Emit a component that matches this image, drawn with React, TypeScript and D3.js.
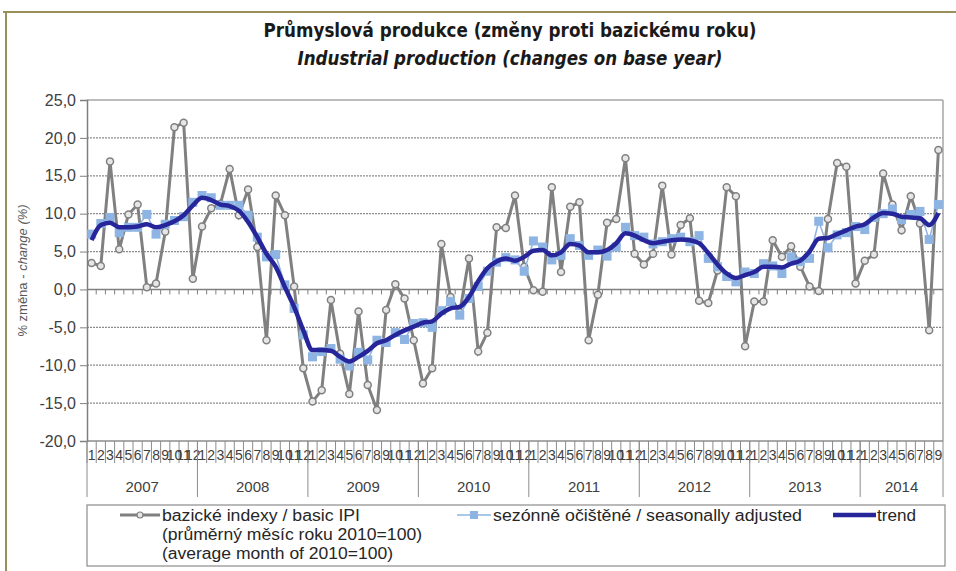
import React, { useRef, useEffect } from 'react';
import * as d3 from 'd3';

// years shown on the category axis and how many months each has
const years = ['2007', '2008', '2009', '2010', '2011', '2012', '2013', '2014'];
const monthsInYear = [12, 12, 12, 12, 12, 12, 12, 9];
const yTicks = [25, 20, 15, 10, 5, 0, -5, -10, -15, -20];

// basic IPI (gray)
const basicIPI = [
  3.5, 3.1, 16.9, 5.3, 9.9, 11.2, 0.3, 0.8, 7.6, 21.4, 22.0, 1.4,
  8.3, 10.7, 11.3, 15.9, 9.8, 13.2, 5.6, -6.7, 12.4, 9.8, 0.4, -10.4,
  -14.8, -13.3, -1.4, -8.5, -13.8, -2.9, -12.6, -15.9, -2.7, 0.7, -1.2, -6.7,
  -12.4, -10.4, 6.0, -1.0, -3.0, 4.1, -8.2, -5.7, 8.2, 8.1, 12.4, 3.0,
  -0.1, -0.3, 13.5, 2.3, 10.9, 11.5, -6.7, -0.7, 8.8, 9.3, 17.3, 4.7,
  3.3, 4.7, 13.7, 4.6, 8.5, 9.4, -1.5, -1.8, 2.5, 13.5, 12.3, -7.5,
  -1.6, -1.6, 6.5, 4.3, 5.7, 3.0, 0.4, -0.2, 9.3, 16.7, 16.2, 0.8,
  3.8, 4.6, 15.3, 11.2, 7.8, 12.3, 8.7, -5.4, 18.4
];

// seasonally adjusted (light blue)
const seasonallyAdjusted = [
  7.3, 8.7, 9.5, 7.5, 8.2, 8.2, 9.9, 7.3, 8.6, 9.1, 9.6, 11.5,
  12.4, 12.1, 11.1, 11.1, 11.1, 9.8, 6.9, 4.3, 4.6, 0.6, -2.5, -6.0,
  -8.9, -8.2, -7.8, -9.2, -10.1, -8.3, -9.3, -6.7, -7.0, -5.7, -6.6, -4.5,
  -4.4, -5.0, -2.8, -1.6, -3.4, -1.2, 0.4, 2.4, 3.6, 4.2, 3.9, 2.4,
  6.4, 5.6, 3.9, 4.5, 6.7, 5.8, 4.5, 5.2, 4.4, 5.6, 8.2, 7.1,
  6.9, 6.0, 6.3, 6.7, 6.9, 6.3, 7.1, 4.1, 3.0, 1.7, 1.0, 2.3,
  2.1, 3.4, 3.1, 2.1, 4.3, 3.7, 4.1, 9.0, 5.5, 7.2, 7.5, 8.3,
  7.9, 9.5, 10.0, 10.6, 9.2, 9.9, 10.3, 6.6, 11.2
];

// trend (dark blue)
const trend = [
  6.5, 8.5, 8.8, 8.2, 8.2, 8.3, 8.6, 8.2, 8.5, 9.0, 9.8, 11.1,
  12.1, 11.8, 11.2, 11.0, 10.4, 8.9, 6.9, 4.7, 3.0, 0.3, -2.3, -5.4,
  -8.0, -8.0, -8.1, -8.9, -9.5, -8.9, -8.1, -7.1, -6.7, -6.0, -5.4, -4.9,
  -4.4, -4.2, -3.2, -2.5, -2.3, -1.0, 1.1, 2.8, 3.7, 4.1, 3.8, 4.3,
  5.1, 5.2, 4.5, 4.9, 6.0, 5.8, 4.9, 4.9, 5.2, 6.1, 7.4, 7.1,
  6.5, 6.1, 6.3, 6.5, 6.6, 6.5, 6.1, 4.8, 3.3, 2.1, 1.5, 1.9,
  2.3, 3.0, 3.0, 2.9, 3.4, 3.8, 5.0, 6.7, 6.8, 7.3, 7.8, 8.3,
  8.6, 9.5, 10.1, 10.0, 9.6, 9.5, 9.4, 8.5, 10.1
];

const FONT = "'Liberation Sans', Arial, sans-serif";
const TITLE_FONT = "'Liberation Sans Narrow', 'DejaVu Sans Condensed', 'Liberation Sans', sans-serif";

function App() {
  const svgRef = useRef<SVGSVGElement>(null);

  useEffect(() => {
    const svg = d3.select(svgRef.current);
    svg.selectAll('*').remove();

    const W = 956, H = 571;
    const left = 87, right = 943, top = 100, bottom = 441;

    // categories: one per month
    const cats: { key: string; month: string; year: string }[] = [];
    years.forEach((y, yi) => {
      for (let m = 1; m <= monthsInYear[yi]; m++) {
        cats.push({ key: `${y}-${m}`, month: String(m), year: y });
      }
    });

    const x = d3.scaleBand().domain(cats.map(c => c.key)).range([left, right]).padding(0);
    const y = d3.scaleLinear().domain([-20, 25]).range([bottom, top]);
    const cx = (i: number) => (x(cats[i].key) as number) + x.bandwidth() / 2;

    svg.append('rect').attr('width', W).attr('height', H).attr('fill', '#fff');

    // outer frame
    svg.append('line').attr('x1', 3).attr('x2', W).attr('y1', 12).attr('y2', 12)
      .attr('stroke', '#9a8f5a').attr('stroke-width', 2);
    svg.append('line').attr('x1', 6).attr('x2', 6).attr('y1', 12).attr('y2', H)
      .attr('stroke', '#9a8f5a').attr('stroke-width', 2);

    // titles
    svg.append('text').attr('x', 510).attr('y', 37).attr('text-anchor', 'middle')
      .attr('font-family', TITLE_FONT).attr('font-weight', 'bold').attr('font-size', 19)
      .attr('fill', '#1a1a1a').attr('textLength', 493).attr('lengthAdjust', 'spacingAndGlyphs')
      .text('Průmyslová produkce (změny proti bazickému roku)');
    svg.append('text').attr('x', 510).attr('y', 65).attr('text-anchor', 'middle')
      .attr('font-family', TITLE_FONT).attr('font-weight', 'bold').attr('font-style', 'italic')
      .attr('font-size', 19).attr('fill', '#1a1a1a')
      .attr('textLength', 425).attr('lengthAdjust', 'spacingAndGlyphs')
      .text('Industrial production (changes on base year)');

    // gridlines (dotted)
    svg.append('g').selectAll('line')
      .data(yTicks.filter(t => t !== 25 && t !== 0 && t !== -20))
      .enter().append('line')
      .attr('x1', left).attr('x2', right)
      .attr('y1', d => y(d)).attr('y2', d => y(d))
      .attr('stroke', '#8c8c8c').attr('stroke-width', 1.2).attr('stroke-dasharray', '2,1');

    // plot border top/right/bottom
    svg.append('line').attr('x1', left).attr('x2', right).attr('y1', y(25)).attr('y2', y(25))
      .attr('stroke', '#a6a6a6').attr('stroke-width', 1.5);
    svg.append('line').attr('x1', right).attr('x2', right).attr('y1', y(25)).attr('y2', y(-20))
      .attr('stroke', '#a6a6a6').attr('stroke-width', 1.5);
    svg.append('line').attr('x1', left).attr('x2', right).attr('y1', y(-20)).attr('y2', y(-20))
      .attr('stroke', '#8c8c8c').attr('stroke-width', 1.5);

    // zero line with month ticks
    svg.append('line').attr('x1', left).attr('x2', right).attr('y1', y(0)).attr('y2', y(0))
      .attr('stroke', '#7f7f7f').attr('stroke-width', 1.5);
    svg.append('g').selectAll('line')
      .data(cats.slice(1)).enter().append('line')
      .attr('x1', d => x(d.key) as number).attr('x2', d => x(d.key) as number)
      .attr('y1', y(0)).attr('y2', y(0) + 5)
      .attr('stroke', '#7f7f7f').attr('stroke-width', 1);

    // y axis
    const yAxis = svg.append('g').attr('transform', `translate(${left},0)`)
      .call(d3.axisLeft(y).tickValues(yTicks).tickSize(7).tickPadding(4)
        .tickFormat(d => d3.format('.1f')(d as number).replace('.', ',').replace('−', '-')));
    yAxis.select('.domain').attr('stroke', '#7f7f7f').attr('stroke-width', 1.5);
    yAxis.selectAll('.tick line').attr('stroke', '#7f7f7f');
    yAxis.selectAll('.tick text').attr('font-family', FONT).attr('font-size', 16).attr('fill', '#404040');

    // y axis title
    const yt = svg.append('text')
      .attr('transform', `translate(27,${(top + bottom) / 2}) rotate(-90)`)
      .attr('text-anchor', 'middle').attr('font-family', FONT).attr('font-size', 13)
      .attr('fill', '#595959');
    yt.append('tspan').text('% změna - ');
    yt.append('tspan').attr('font-style', 'italic').text('change (%)');

    // category axis (multi-level)
    const catAxis = svg.append('g');
    catAxis.selectAll('line.m').data(cats).enter().append('line')
      .attr('x1', d => x(d.key) as number).attr('x2', d => x(d.key) as number)
      .attr('y1', bottom).attr('y2', bottom + 22)
      .attr('stroke', '#8c8c8c').attr('stroke-width', 1);
    catAxis.append('line').attr('x1', right).attr('x2', right).attr('y1', bottom).attr('y2', bottom + 56)
      .attr('stroke', '#8c8c8c');
    catAxis.selectAll('text.m').data(cats).enter().append('text')
      .attr('x', d => (x(d.key) as number) + x.bandwidth() / 2).attr('y', bottom + 19)
      .attr('text-anchor', 'middle').attr('font-family', FONT).attr('font-size', 14)
      .attr('fill', '#404040').text(d => d.month);

    let start = 0;
    years.forEach((yr, yi) => {
      const x0 = x(cats[start].key) as number;
      const last = cats[start + monthsInYear[yi] - 1];
      const x1 = (x(last.key) as number) + x.bandwidth();
      catAxis.append('line').attr('x1', x0).attr('x2', x0).attr('y1', bottom).attr('y2', bottom + 56)
        .attr('stroke', '#8c8c8c');
      catAxis.append('text').attr('x', (x0 + x1) / 2).attr('y', bottom + 51)
        .attr('text-anchor', 'middle').attr('font-family', FONT).attr('font-size', 15)
        .attr('fill', '#404040').text(yr);
      start += monthsInYear[yi];
    });

    // series
    const idx = d3.range(cats.length);

    svg.append('path')
      .attr('d', d3.line<number>().x(i => cx(i)).y(i => y(basicIPI[i]))(idx) as string)
      .attr('fill', 'none').attr('stroke', '#808080').attr('stroke-width', 3);
    svg.append('g').selectAll('circle').data(idx).enter().append('circle')
      .attr('cx', i => cx(i)).attr('cy', i => y(basicIPI[i])).attr('r', 3.5)
      .attr('fill', '#e6e6e6').attr('stroke', '#808080').attr('stroke-width', 1.5);

    svg.append('path')
      .attr('d', d3.line<number>().x(i => cx(i)).y(i => y(seasonallyAdjusted[i]))(idx) as string)
      .attr('fill', 'none').attr('stroke', '#8db4e2').attr('stroke-width', 1.5);
    svg.append('g').selectAll('rect').data(idx).enter().append('rect')
      .attr('x', i => cx(i) - 4.5).attr('y', i => y(seasonallyAdjusted[i]) - 4.5)
      .attr('width', 9).attr('height', 9).attr('fill', '#8db4e2');

    svg.append('path')
      .attr('d', d3.line<number>().x(i => cx(i)).y(i => y(trend[i])).curve(d3.curveMonotoneX)(idx) as string)
      .attr('fill', 'none').attr('stroke', '#26269a').attr('stroke-width', 4.5)
      .attr('stroke-linejoin', 'round');

    // legend
    const lg = svg.append('g');
    lg.append('rect').attr('x', 87).attr('y', 505).attr('width', 858).attr('height', 61)
      .attr('fill', '#fff').attr('stroke', '#8c8c8c').attr('stroke-width', 1.2);
    lg.append('line').attr('x1', 120).attr('x2', 160).attr('y1', 515).attr('y2', 515)
      .attr('stroke', '#808080').attr('stroke-width', 3);
    lg.append('circle').attr('cx', 140).attr('cy', 515).attr('r', 3)
      .attr('fill', '#e6e6e6').attr('stroke', '#808080').attr('stroke-width', 1.2);

    const legendText = (tx: number, ty: number, len: number, s: string) =>
      lg.append('text').attr('x', tx).attr('y', ty).attr('font-family', FONT).attr('font-size', 16)
        .attr('fill', '#262626').attr('textLength', len).attr('lengthAdjust', 'spacingAndGlyphs')
        .text(s);

    legendText(162, 521, 198, 'bazické indexy / basic IPI');
    legendText(162, 540, 260, '(průměrný měsíc roku 2010=100)');
    legendText(162, 559, 231, '(average month of 2010=100)');

    lg.append('line').attr('x1', 457).attr('x2', 491).attr('y1', 515).attr('y2', 515)
      .attr('stroke', '#8db4e2').attr('stroke-width', 1.5);
    lg.append('rect').attr('x', 470).attr('y', 511).attr('width', 8).attr('height', 8).attr('fill', '#8db4e2');
    legendText(493, 521, 309, 'sezónně očištěné / seasonally adjusted');

    lg.append('line').attr('x1', 833).attr('x2', 876).attr('y1', 515).attr('y2', 515)
      .attr('stroke', '#26269a').attr('stroke-width', 4.5);
    legendText(877, 521, 39, 'trend');
  }, []);

  return (
    <svg
      ref={svgRef}
      width={956}
      height={571}
      style={{ position: 'absolute', left: 0, top: 0, display: 'block' }}
    />
  );
}

export default App;
